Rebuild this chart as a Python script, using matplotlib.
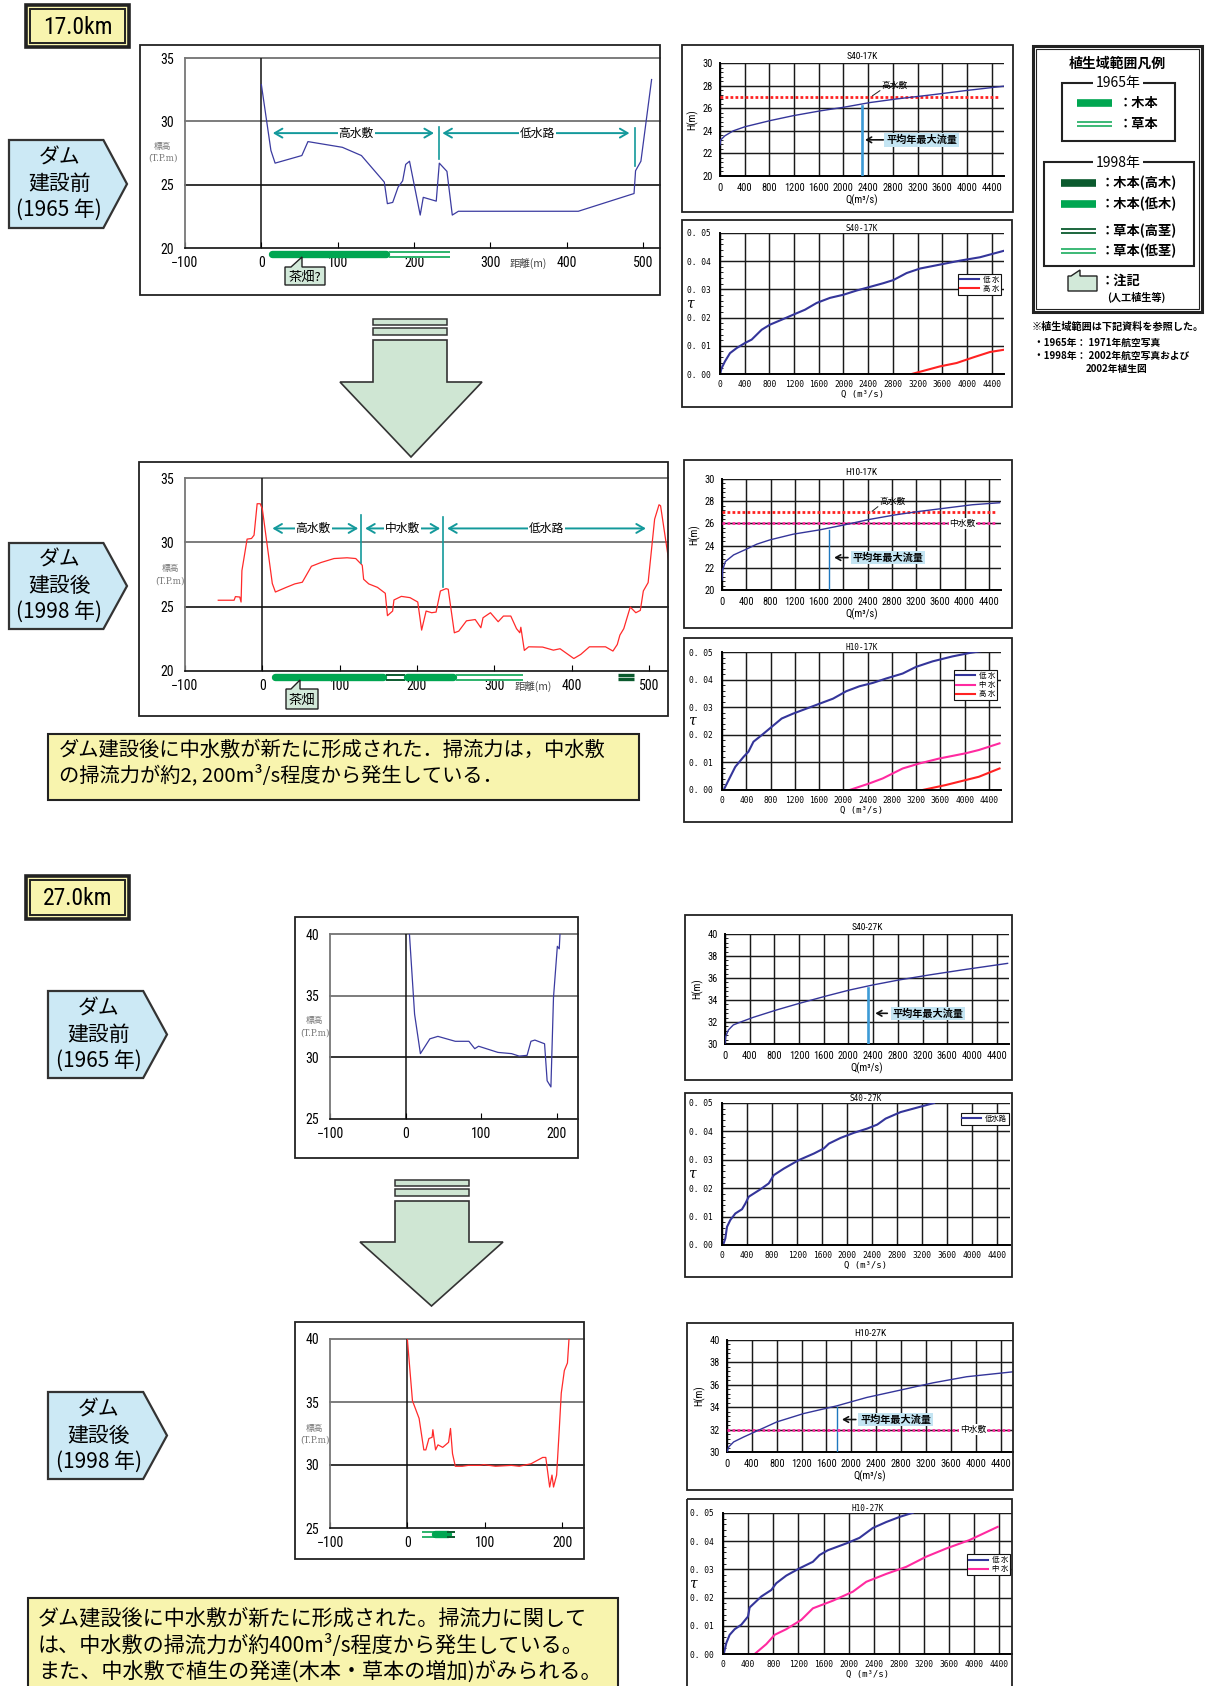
import numpy as np
import matplotlib
matplotlib.use('Agg')
import matplotlib.pyplot as plt
from matplotlib.patches import Rectangle, Polygon
from matplotlib.ticker import MultipleLocator
from matplotlib import font_manager as fm

JP = 'Noto Sans CJK JP'
MONO = 'DejaVu Sans Mono'
plt.rcParams['font.family'] = [JP, 'DejaVu Sans']


def _find_narrow():
    pref = ['Liberation Sans Narrow', 'Roboto Condensed', 'Noto Sans', 'Open Sans', 'DejaVu Sans',
            'Roboto', 'Lato', 'Inter']
    found = {}
    for f in fm.fontManager.ttflist:
        st = str(f.stretch)
        narrow = ('Narrow' in f.name or 'Condensed' in f.name or
                  st in ('condensed', 'semi-condensed', 'extra-condensed', '700', '600', '500'))
        if narrow and f.style == 'normal' and f.weight in (400, 'normal', 'regular', 'book'):
            found.setdefault(f.name, f.fname)
    for p in pref:
        if p in found:
            return fm.FontProperties(fname=found[p])
    if found:
        return fm.FontProperties(fname=list(found.values())[0])
    return fm.FontProperties(family='Roboto')


_NFP = _find_narrow()


def NF(size):
    p = _NFP.copy()
    p.set_size(size)
    return p


# ======================= DATA =======================
# 17.0 km cross-section, 1965 (distance m, elevation T.P.m)
xs17_65_x = [0, 12.5, 18, 53, 61, 106, 131, 161, 165, 172, 179, 185, 189, 194, 208, 212,
             229, 233, 243, 250, 258, 415, 488, 490, 497, 511]
xs17_65_z = [32.9, 27.7, 26.7, 27.3, 28.4, 27.95, 27.3, 25.2, 23.5, 23.6, 24.8, 25.3, 26.6,
             26.85, 22.6, 24.0, 23.7, 26.7, 26.05, 22.6, 22.9, 22.9, 24.3, 26.1, 26.85, 33.3]
# 17.0 km cross-section, 1998
xs17_98_x = [-57, -36.5, -34.8, -29.2, -27.5, -26.4, -19.7, -14, -10.7, -6.7, -2.8, 0, 12.9,
             16.9, 30.9, 42, 51.7, 63.5, 75.8, 92.7, 109.6, 120.8, 129.2, 131, 137.6, 148.9,
             159, 161.8, 168.5, 170.2, 179.8, 191, 201, 206, 211.8, 219, 224.7, 230.3, 237.6,
             240.4, 248.3, 254, 264, 275.3, 282.6, 285.4, 295, 305, 311.8, 321.3, 328.7, 333,
             334.3, 338.8, 344.4, 362.4, 376.4, 385, 402.8, 411.8, 423, 443.8, 453.4, 459,
             462.4, 467.4, 475.8, 483, 488.8, 492.7, 498.9, 507.3, 513, 515, 525]
xs17_98_z = [25.5, 25.5, 25.78, 25.75, 25.36, 27.8, 30.25, 30.3, 30.56, 33.0, 33.0, 32.6, 26.8,
             26.14, 26.5, 26.77, 26.9, 28.14, 28.43, 28.74, 28.8, 28.74, 28.22, 27.13, 26.77,
             26.5, 26.04, 24.3, 24.66, 25.52, 25.8, 25.7, 25.36, 23.18, 24.66, 24.53, 24.58,
             26.22, 26.4, 26.35, 22.97, 23.1, 23.9, 24.0, 23.36, 24.14, 24.53, 23.83, 24.27,
             24.27, 23.29, 22.97, 23.4, 21.6, 21.88, 21.86, 21.62, 21.73, 20.97, 21.29, 21.88,
             21.88, 21.55, 22.06, 22.79, 23.29, 24.97, 24.53, 24.71, 26.22, 26.87, 31.8, 32.92,
             32.84, 28.8]
# 27.0 km cross-section, 1965
xs27_65_x = [5, 11.8, 19.5, 32, 42.6, 65.6, 83.6, 91.3, 96.4, 122, 140, 150, 160.5, 165.6,
             170.8, 183.6, 187, 192, 195.4, 200.5, 203, 204]
xs27_65_z = [40, 33.5, 30.3, 31.5, 31.7, 31.3, 31.3, 30.7, 30.9, 30.4, 30.3, 30.1, 30.16, 31.3,
             31.4, 31.1, 28.1, 27.6, 34.85, 39.0, 38.8, 40]
# 27.0 km cross-section, 1998
xs27_98_x = [0, 6.6, 15.2, 21.3, 23.9, 27.9, 32, 33, 36.5, 39.6, 45.7, 53.3, 55.8, 58.4, 62,
             71, 78.7, 94, 99, 114, 134.5, 144.7, 160, 175, 179, 184, 187, 189, 193, 196.4,
             199, 203, 207, 209]
xs27_98_z = [40, 35.1, 33.7, 31.2, 31.2, 32.1, 32.2, 32.8, 31.2, 31.6, 31.4, 31.8, 32.9, 30.9,
             29.9, 29.9, 29.97, 29.97, 30.03, 29.9, 29.97, 29.9, 30.1, 30.6, 30.6, 28.25, 29.2,
             28.25, 29.2, 32.8, 35.7, 37.5, 38.1, 40]

# H-Q curves (Q m3/s, H m)
hq_s40_17_q = [0, 11, 80, 216, 405, 810, 1188, 1620, 2000, 2430, 2861, 3455, 3995, 4600]
hq_s40_17_h = [22.76, 23.2, 23.56, 24.0, 24.36, 24.9, 25.34, 25.76, 26.08, 26.5, 26.82, 27.2, 27.57, 27.95]
hq_h10_17_q = [0, 11, 55, 191, 410, 574, 793, 1175, 1612, 1995, 2432, 2870, 3252, 3689, 4127, 4575]
hq_h10_17_h = [20.9, 21.8, 22.56, 23.16, 23.7, 24.13, 24.52, 25.03, 25.42, 25.84, 26.36, 26.78, 27.08, 27.38, 27.68, 27.86]
hq_s40_27_q = [0, 11, 54, 134, 268, 456, 832, 1207, 1637, 2012, 2388, 2817, 3300, 3837, 4577]
hq_s40_27_h = [30.06, 30.67, 31.27, 31.73, 32.03, 32.42, 33.09, 33.7, 34.36, 34.9, 35.36, 35.82, 36.27, 36.73, 37.33]
hq_h10_27_q = [0, 27, 107, 268, 482, 803, 1231, 1766, 2248, 2783, 3318, 3854, 4600]
hq_h10_27_h = [30.0, 30.45, 30.9, 31.34, 31.88, 32.69, 33.43, 34.12, 34.87, 35.52, 36.18, 36.72, 37.16]

# mean annual maximum discharge (m3/s)
qmean_s40_17 = 2300
qmean_h10_17 = 1765
qmean_s40_27 = 2318
qmean_h10_27 = 1777
# floodplain levels (m)
lv_high_17 = 27.0
lv_mid_17 = 26.0
lv_mid_27 = 32.0

# tractive force tau vs Q
tau_s40_17_low_q = [0, 27, 81, 162, 270, 405, 513, 675, 810, 1026, 1215, 1377, 1566, 1782, 1998,
                    2213, 2430, 2645, 2807, 3023, 3239, 3563, 3887, 4211, 4600]
tau_s40_17_low_t = [0, 0.0021, 0.0045, 0.0074, 0.0092, 0.011, 0.0122, 0.0157, 0.0175, 0.0195,
                    0.0213, 0.0228, 0.0252, 0.027, 0.0281, 0.0296, 0.0309, 0.0322, 0.0333, 0.0358,
                    0.0374, 0.0388, 0.0402, 0.0414, 0.0437]
tau_s40_17_high_q = [3104, 3563, 3833, 4103, 4373, 4600]
tau_s40_17_high_t = [0, 0.0027, 0.0039, 0.0059, 0.0078, 0.0086]

tau_h10_17_low_q = [27, 109, 219, 355, 437, 519, 656, 820, 984, 1175, 1394, 1612, 1831, 2050,
                    2268, 2487, 2706, 2979, 3198, 3471, 3799, 4072, 4345]
tau_h10_17_low_t = [0, 0.0036, 0.0084, 0.012, 0.0139, 0.0175, 0.0199, 0.0229, 0.0259, 0.0277,
                    0.0295, 0.0313, 0.0331, 0.0358, 0.0376, 0.0388, 0.0404, 0.0422, 0.0446,
                    0.0466, 0.0484, 0.0496, 0.0506]
tau_h10_17_mid_q = [2104, 2432, 2651, 2815, 2979, 3252, 3580, 4017, 4236, 4575]
tau_h10_17_mid_t = [0, 0.0024, 0.0042, 0.006, 0.0078, 0.0096, 0.0114, 0.0133, 0.0145, 0.0169]
tau_h10_17_high_q = [3307, 3689, 4017, 4236, 4575]
tau_h10_17_high_t = [0, 0.0018, 0.0036, 0.0048, 0.0078]

tau_s40_27_low_q = [27, 53, 80, 133, 213, 320, 373, 427, 613, 747, 827, 987, 1227, 1467, 1627,
                    1707, 1893, 2107, 2320, 2480, 2613, 2853, 3120, 3387]
tau_s40_27_low_t = [0.0006, 0.0023, 0.0064, 0.0088, 0.0111, 0.0126, 0.0146, 0.017, 0.0196,
                    0.0217, 0.0246, 0.0269, 0.0299, 0.0322, 0.034, 0.0357, 0.0377, 0.0395,
                    0.041, 0.0424, 0.0445, 0.0468, 0.0484, 0.05]

tau_h10_27_low_q = [16, 53, 106, 186, 292, 398, 424, 610, 769, 848, 1007, 1219, 1431, 1537,
                    1670, 1961, 2173, 2386, 2598, 2810, 3022]
tau_h10_27_low_t = [0.0004, 0.0039, 0.0068, 0.0088, 0.0104, 0.0133, 0.0165, 0.0204, 0.0227,
                    0.0251, 0.0278, 0.0304, 0.0327, 0.0351, 0.0368, 0.0392, 0.0412, 0.0447,
                    0.0468, 0.0486, 0.0501]
tau_h10_27_mid_q = [504, 689, 822, 1007, 1246, 1431, 1749, 2067, 2280, 2598, 2916, 3234, 3552,
                    3923, 4373]
tau_h10_27_mid_t = [0, 0.0035, 0.0068, 0.0088, 0.0121, 0.0162, 0.0189, 0.0221, 0.0256, 0.0284,
                    0.0309, 0.0345, 0.0374, 0.0404, 0.0451]

# vegetation ranges below the cross-sections (from m, to m, kind)
veg17_65 = [(14, 163, 'solid'), (167, 247, 'dbl')]
veg17_98 = [(16, 156, 'solid'), (160, 185, 'dbl_dark'), (187, 246, 'solid'),
            (250, 337, 'dbl'), (460, 480, 'dbl_dark_thick')]
veg27_98 = [(19, 43, 'dbl'), (36, 52, 'solid'), (51, 62, 'dbl_dark')]

xticks_q = list(range(0, 4401, 400))
tau_ticks = [0, 0.01, 0.02, 0.03, 0.04, 0.05]
tau_labels = ['0. 00', '0. 01', '0. 02', '0. 03', '0. 04', '0. 05']

# ======================= STYLE =======================
TEAL = '#13999b'
BLUE_XS = '#3b3ba0'
RED_XS = '#ff2a2a'
CURVE = '#34359a'
RED = '#ff2222'
MAG = '#ff2aa0'
GREEN = '#00a651'
DKGREEN = '#0b5a2e'
LTGREEN = '#2db36b'
YEL = '#f8f4ae'
PENT = '#cce9f5'
ARROWC = '#cfe6d3'
CALL = '#d2e9d9'
LBLUE = '#c4e5f3'

W, H = 1218, 1686
fig = plt.figure(figsize=(W / 100, H / 100), dpi=100)
fig.patch.set_facecolor('white')


def add_ax(x0, y0, x1, y1, **kw):
    return fig.add_axes([x0 / W, 1 - y1 / H, (x1 - x0) / W, (y1 - y0) / H], **kw)


ov = add_ax(0, 0, W, H, zorder=10)
ov.set_xlim(0, W)
ov.set_ylim(H, 0)
ov.axis('off')
ov.patch.set_alpha(0)


def T(x, y, s, fs, ha='left', va='center', family=None, **kw):
    ov.text(x, y, s, fontsize=fs, ha=ha, va=va,
            fontfamily=family if family else [JP, 'DejaVu Sans'], **kw)


def frame(x0, y0, x1, y1, lw=1.3, fc='none', ec='#222'):
    ov.add_patch(Rectangle((x0, y0), x1 - x0, y1 - y0, fc=fc, ec=ec, lw=lw))


def set_tick_font(ax, fp):
    for lab in ax.get_xticklabels() + ax.get_yticklabels():
        lab.set_fontproperties(fp)


# ---------- decorative items ----------
def km_box(x0, y0, x1, y1, text):
    frame(x0, y0, x1, y1, lw=2.6, fc=YEL)
    frame(x0 + 4, y0 + 4, x1 - 4, y1 - 4, lw=1.4)
    ov.text((x0 + x1) / 2, (y0 + y1) / 2 + 1, text, ha='center', va='center',
            fontproperties=NF(17))


def pentagon(x0, y0, x1, y1, lines):
    xr = x0 + 0.8 * (x1 - x0)
    ym = (y0 + y1) / 2
    ov.add_patch(Polygon([(x0, y0), (xr, y0), (x1, ym), (xr, y1), (x0, y1)],
                         closed=True, fc=PENT, ec='#333', lw=1.6))
    xc = (x0 + xr) / 2 + 3
    for i, s in enumerate(lines):
        T(xc, ym + (i - 1) * 26, s, 15, ha='center', family=[JP])


def big_arrow(xb0, xb1, y_bar, y_body, y_head, xh0, xh1, tipy):
    xm = (xh0 + xh1) / 2
    ov.add_patch(Rectangle((xb0, y_bar), xb1 - xb0, 6, fc=ARROWC, ec='#333', lw=1.1))
    ov.add_patch(Rectangle((xb0, y_bar + 9), xb1 - xb0, 7, fc=ARROWC, ec='#333', lw=1.1))
    ov.add_patch(Polygon([(xb0, y_body), (xb1, y_body), (xb1, y_head), (xh1, y_head),
                          (xm, tipy), (xh0, y_head), (xb0, y_head)],
                         closed=True, fc=ARROWC, ec='#333', lw=1.2))


def callout(x0, y0, x1, y1, xa, xb, tipy, text, fs):
    ov.add_patch(Polygon([(x0, y0), (xa, y0), (xb, tipy), (xb, y0), (x1, y0), (x1, y1), (x0, y1)],
                         closed=True, fc=CALL, ec='#222', lw=1.0))
    if text:
        T((x0 + x1) / 2, (y0 + y1) / 2 + 1, text, fs, ha='center')


def ov_bar(x0, x1, y, kind):
    if kind == 'solid':
        ov.plot([x0, x1], [y, y], color=GREEN, lw=5.5, solid_capstyle='butt')
    elif kind == 'solid_dark':
        ov.plot([x0, x1], [y, y], color=DKGREEN, lw=5.5, solid_capstyle='butt')
    else:
        col = LTGREEN if kind == 'dbl' else DKGREEN
        for d in (-2.4, 2.4):
            ov.plot([x0, x1], [y + d, y + d], color=col, lw=1.3, solid_capstyle='butt')


# ---------- cross-section ----------
def xsection(px, xlim, ylim, xticks, x, z, color, dist_label=False):
    x0, y0, x1, y1 = px
    hpx = y1 - y0
    ax = add_ax(x0, y0, x1, y1)
    ax.set_xlim(*xlim)
    ax.set_ylim(*ylim)
    yt = list(range(int(ylim[0]), int(ylim[1]) + 1, 5))
    ax.set_yticks(yt, labels=[str(v) for v in yt])
    ax.set_xticks(xticks, labels=[('\u2212%d' % -v) if v < 0 else str(v) for v in xticks])
    for sp in ['top', 'right']:
        ax.spines[sp].set_visible(False)
    ax.spines['left'].set_color('#777')
    ax.spines['left'].set_linewidth(1.3)
    ax.spines['bottom'].set_color('#111')
    ax.spines['bottom'].set_linewidth(1.2)
    for i, yv in enumerate(yt[1:]):
        ax.axhline(yv, color='#111' if i == 0 else '#666', lw=1.2, clip_on=False, zorder=1)
    ax.axvline(0, color='#111', lw=1.1, zorder=1)
    ax.plot(x, z, color=color, lw=0.9, zorder=3)
    ax.tick_params(axis='x', direction='in', length=4, width=0.8, pad=6)
    ax.tick_params(axis='y', direction='in', length=0, pad=8)
    set_tick_font(ax, NF(10))
    if dist_label:
        ax.text(350, -15 / hpx, '距離(m)', transform=ax.get_xaxis_transform(), fontsize=7.5,
                ha='center', va='center', color='#444')
    return ax, hpx


def veg(ax, hpx, items):
    tr = ax.get_xaxis_transform()
    yc = -6.0 / hpx
    d = 2.5 / hpx
    for a, b, kind in items:
        if kind == 'solid':
            ax.plot([a, b], [yc, yc], transform=tr, color=GREEN, lw=5.3,
                    solid_capstyle='round', clip_on=False, zorder=4)
        elif kind == 'dbl_dark_thick':
            for s in (-1, 1):
                ax.plot([a, b], [yc + s * d * 0.9] * 2, transform=tr, color=DKGREEN, lw=2.4,
                        clip_on=False, solid_capstyle='butt', zorder=4)
        else:
            col = LTGREEN if kind == 'dbl' else DKGREEN
            for s in (-1, 1):
                ax.plot([a, b], [yc + s * d] * 2, transform=tr, color=col, lw=1.4,
                        clip_on=False, solid_capstyle='butt', zorder=4)


def span(ax, a, b, y, label=None, xl=None):
    ax.annotate('', xy=(a, y), xytext=(b, y),
                arrowprops=dict(arrowstyle='<->,head_length=0.55,head_width=0.32', color=TEAL,
                                lw=1.4, shrinkA=0, shrinkB=0), zorder=5)
    if label:
        ax.text(xl, y, label, fontsize=8.5, ha='center', va='center', zorder=6,
                bbox=dict(fc='white', ec='none', pad=0.6))


def vline(ax, x, ya, yb):
    ax.plot([x, x], [ya, yb], color=TEAL, lw=1.2, zorder=5)


# ---------- small charts ----------
def chart(px, ylim, ystep, ylabels, minor, title, kind, xlab):
    x0, y0, x1, y1 = px
    ax = add_ax(x0, y0, x1, y1)
    ax.set_xlim(0, 4600)
    ax.set_ylim(*ylim)
    yt = np.arange(ylim[0], ylim[1] + ystep / 2, ystep)
    if ylabels is None:
        ylabels = ['%d' % v for v in yt]
    ax.set_yticks(yt, labels=ylabels)
    ax.set_xticks(xticks_q, labels=[str(v) for v in xticks_q])
    ax.grid(True, color='#1a1a1a', lw=1.05)
    ax.set_axisbelow(True)
    ax.yaxis.set_minor_locator(MultipleLocator(minor))
    for sp in ['top', 'right']:
        ax.spines[sp].set_visible(False)
    ax.spines['left'].set_linewidth(1.4)
    ax.spines['bottom'].set_linewidth(1.4)
    if kind == 'hq':
        ax.tick_params(which='major', length=0, pad=5)
        set_tick_font(ax, NF(7.5))
        ax.set_title(title, pad=3, fontproperties=NF(6.8))
        ax.set_xlabel(xlab, labelpad=1, fontproperties=NF(7.5))
        ax.set_ylabel('H(m)', labelpad=3, fontproperties=NF(7.5))
    else:
        ax.tick_params(which='major', length=0, labelsize=5.7, pad=4, labelfontfamily=MONO)
        ax.tick_params(axis='y', pad=7)
        ax.set_title(title, fontsize=5.6, pad=1.5, fontfamily=MONO)
        ax.set_xlabel(xlab, fontsize=6.5, labelpad=1, fontfamily=MONO)
        ax.text(-30 / (x1 - x0), 0.5, 'τ', transform=ax.transAxes, fontsize=10, style='italic',
                fontfamily='DejaVu Serif', ha='center', va='center')
    ax.tick_params(axis='y', which='minor', direction='in', length=2.5, width=0.6)
    return ax


def mean_line(ax, qm, q, h, ybase, thick, lab_q, lab_h, arr_from, arr_to):
    top = np.interp(qm, q, h)
    ax.plot([qm, qm], [ybase, top - 0.15], color='#3d9bd6' if thick else '#1f78bf',
            lw=1.9 if thick else 1.0, zorder=3)
    ax.text(lab_q, lab_h, '平均年最大流量', fontsize=7.3, fontweight='bold', ha='left', va='center',
            zorder=6, bbox=dict(fc=LBLUE, ec='none', pad=1.2))
    ax.annotate('', xy=(arr_to, lab_h), xytext=(arr_from, lab_h),
                arrowprops=dict(arrowstyle='->,head_length=0.35,head_width=0.2', lw=1.2,
                                color='#111', shrinkA=0, shrinkB=0), zorder=6)


def level(ax, y, color, xmax=4540):
    ax.plot([0, xmax], [y, y], color=color, lw=2.0, ls=(0, (1, 0.8)), zorder=4)


def leader(ax, qa, ha_, qb, hb, text):
    ax.plot([qa, qb], [ha_, hb], color='#222', lw=0.7, zorder=6)
    ax.text(qb + 30, hb + 0.1, text, fontsize=6.3, ha='left', va='bottom', zorder=6)


def tau_leg(ax, anchor, labels):
    leg = ax.legend(labels, loc='upper right', bbox_to_anchor=anchor, fontsize=5.3,
                    frameon=True, fancybox=False, edgecolor='#111', framealpha=1,
                    borderpad=0.25, labelspacing=0.15, handlelength=2.6, handletextpad=0.5,
                    borderaxespad=0)
    leg.get_frame().set_linewidth(0.8)


# ======================= SECTION 17.0 km =======================
km_box(26, 5, 129, 47, '17.0km')
pentagon(9, 140, 127, 228, ['ダム', '建設前', '(1965 年)'])
pentagon(9, 543, 127, 629, ['ダム', '建設後', '(1998 年)'])
big_arrow(373, 447, 319, 340, 382, 340, 482, 457)

frame(140, 45, 660, 295)
axA, hA = xsection((185, 58, 660, 248), (-100, 522), (20, 35), list(range(-100, 501, 100)),
                   xs17_65_x, xs17_65_z, BLUE_XS, dist_label=True)
veg(axA, hA, veg17_65)
span(axA, 15, 226, 29.07, '高水敷', 124)
vline(axA, 232, 27.0, 29.57)
span(axA, 237, 482, 29.07, '低水路', 361)
vline(axA, 489, 26.5, 29.46)
callout(285, 267, 325, 285, 291, 302, 257, '茶畑?', 9.5)
T(163, 147, '標高', 6.3, ha='center', color='#777')
T(163, 158, '(T.P.m)', 6.3, ha='center', color='#777', family=['DejaVu Serif'])

frame(139, 462, 668, 716)
axB, hB = xsection((185, 478, 668, 671), (-100, 524.6), (20, 35), list(range(-100, 501, 100)),
                   xs17_98_x, xs17_98_z, RED_XS, dist_label=True)
veg(axB, hB, veg17_98)
span(axB, 13, 124, 31.08, '高水敷', 66)
vline(axB, 128, 28.4, 32.1)
span(axB, 133, 230, 31.08, '中水敷', 181)
vline(axB, 233, 26.5, 32.0)
span(axB, 239, 496, 31.08, '低水路', 368)
callout(286, 689, 318, 709, 291, 300, 680, '茶畑', 9.5)
T(170, 569, '標高', 6.3, ha='center', color='#777')
T(170, 581, '(T.P.m)', 6.3, ha='center', color='#777', family=['DejaVu Serif'])

# text box 1
frame(48, 734, 639, 800, lw=1.5, fc=YEL)
T(59, 750, 'ダム建設後に中水敷が新たに形成された．掃流力は，中水敷', 14.6, family=[JP])
T(59, 775, 'の掃流力が約2, 200m³/s程度から発生している．', 14.6, family=[JP])

# H-Q S40-17K
frame(682, 45, 1013, 212)
ax = chart((720, 63, 1004, 176), (20, 30), 2, None, 0.4, 'S40-17K', 'hq', 'Q(m³/s)')
ax.plot(hq_s40_17_q, hq_s40_17_h, color=CURVE, lw=1.0, zorder=5)
level(ax, lv_high_17, RED, 4535)
leader(ax, 2470, 27.1, 2590, 27.55, '高水敷')
mean_line(ax, qmean_s40_17, hq_s40_17_q, hq_s40_17_h, 20, True, 2690, 23.2, 2645, 2350)

# tau S40-17K
frame(682, 220, 1012, 407)
ax = chart((720, 233, 1004, 374), (0, 0.05), 0.01, tau_labels, 0.002, 'S40-17K', 'tau',
           'Q (m³/s)')
ax.plot(tau_s40_17_low_q, tau_s40_17_low_t, color=CURVE, lw=1.5, label='低 水')
ax.plot(tau_s40_17_high_q, tau_s40_17_high_t, color=RED, lw=1.5, label='高 水')
tau_leg(ax, (0.99, 0.71), ['低 水', '高 水'])

# H-Q H10-17K
frame(684, 460, 1012, 628)
ax = chart((722, 479, 1001, 590), (20, 30), 2, None, 0.4, 'H10-17K', 'hq', 'Q(m³/s)')
ax.plot(hq_h10_17_q, hq_h10_17_h, color=CURVE, lw=1.0, zorder=5)
level(ax, lv_high_17, RED, 4510)
level(ax, lv_mid_17, MAG, 4510)
leader(ax, 2476, 27.1, 2569, 27.5, '高水敷')
ax.text(3963, lv_mid_17, '中水敷', fontsize=6.3, ha='center', va='center', zorder=7,
        bbox=dict(fc='white', ec='none', pad=0.5))
mean_line(ax, qmean_h10_17, hq_h10_17_q, hq_h10_17_h, 20, False, 2148, 22.92, 2077, 1850)

# tau H10-17K
frame(684, 638, 1012, 822)
ax = chart((722, 652, 1001, 790), (0, 0.05), 0.01, tau_labels, 0.002, 'H10-17K', 'tau',
           'Q (m³/s)')
ax.plot(tau_h10_17_low_q, tau_h10_17_low_t, color=CURVE, lw=1.5)
ax.plot(tau_h10_17_mid_q, tau_h10_17_mid_t, color=MAG, lw=1.5)
ax.plot(tau_h10_17_high_q, tau_h10_17_high_t, color=RED, lw=1.5)
tau_leg(ax, (0.986, 0.868), ['低 水', '中 水', '高 水'])

# vegetation legend
frame(1033, 46, 1202, 312, lw=2.2)
frame(1036, 49, 1199, 309, lw=0.8)
T(1117, 64, '植生域範囲凡例', 10, ha='center', fontweight='bold')
frame(1062, 83, 1175, 141, lw=1.5)
T(1118, 83, '1965年', 10, ha='center', bbox=dict(fc='white', ec='none', pad=1.5))
ov_bar(1077, 1112, 103, 'solid')
T(1119, 103, '：木本', 9.5, fontweight='bold')
ov_bar(1077, 1112, 124, 'dbl')
T(1119, 124, '：草本', 9.5, fontweight='bold')
frame(1044, 162, 1194, 266, lw=1.5)
T(1118, 163, '1998年', 10, ha='center', bbox=dict(fc='white', ec='none', pad=1.5))
ov_bar(1061, 1096, 183, 'solid_dark')
T(1101, 183, '：木本(高木)', 9.5, fontweight='bold')
ov_bar(1061, 1096, 204, 'solid')
T(1101, 204, '：木本(低木)', 9.5, fontweight='bold')
ov_bar(1061, 1096, 231, 'dbl_dark')
T(1101, 231, '：草本(高茎)', 9.5, fontweight='bold')
ov_bar(1061, 1096, 251, 'dbl')
T(1101, 251, '：草本(低茎)', 9.5, fontweight='bold')
callout(1068, 276, 1097, 291, 1071, 1080, 270, None, 8)
T(1101, 281, '：注記', 9.5, fontweight='bold')
T(1107, 297, '(人工植生等)', 7.3, fontweight='bold')
T(1032, 327, '※植生域範囲は下記資料を参照した。', 7.3, fontweight='bold')
T(1034, 343, '・1965年： 1971年航空写真', 7.0, fontweight='bold')
T(1034, 356, '・1998年： 2002年航空写真および', 7.0, fontweight='bold')
T(1086, 369, '2002年植生図', 7.0, fontweight='bold')

# ======================= SECTION 27.0 km =======================
km_box(26, 876, 129, 919, '27.0km')
pentagon(48, 991, 167, 1078, ['ダム', '建設前', '(1965 年)'])
pentagon(48, 1392, 167, 1479, ['ダム', '建設後', '(1998 年)'])
big_arrow(395, 469, 1180, 1201, 1242, 360, 503, 1306)

frame(295, 917, 578, 1158)
axC, hC = xsection((330, 934, 578, 1119), (-100, 227.8), (25, 40), [-100, 0, 100, 200],
                   xs27_65_x, xs27_65_z, BLUE_XS)
T(315, 1021, '標高', 6.3, ha='center', color='#777')
T(315, 1033, '(T.P.m)', 6.3, ha='center', color='#777', family=['DejaVu Serif'])

frame(295, 1322, 584, 1559)
axD, hD = xsection((330, 1339, 584, 1528), (-100, 228.4), (25, 40), [-100, 0, 100, 200],
                   xs27_98_x, xs27_98_z, RED_XS)
veg(axD, hD, veg27_98)
T(315, 1428, '標高', 6.3, ha='center', color='#777')
T(315, 1440, '(T.P.m)', 6.3, ha='center', color='#777', family=['DejaVu Serif'])

# text box 2
frame(28, 1598, 618, 1690, lw=1.5, fc=YEL)
T(38, 1618, 'ダム建設後に中水敷が新たに形成された。掃流力に関して', 15.2, family=[JP])
T(38, 1645, 'は、中水敷の掃流力が約400m³/s程度から発生している。', 15.2, family=[JP])
T(38, 1672, 'また、中水敷で植生の発達(木本・草本の増加)がみられる。', 15.2, family=[JP])

# H-Q S40-27K
frame(685, 915, 1012, 1080)
ax = chart((725, 934, 1009, 1044), (30, 40), 2, None, 0.4, 'S40-27K', 'hq', 'Q(m³/s)')
ax.plot(hq_s40_27_q, hq_s40_27_h, color=CURVE, lw=1.0, zorder=5)
mean_line(ax, qmean_s40_27, hq_s40_27_q, hq_s40_27_h, 30, True, 2710, 32.79, 2629, 2435)

# tau S40-27K
frame(685, 1093, 1012, 1277)
ax = chart((722, 1103, 1010, 1245), (0, 0.05), 0.01, tau_labels, 0.002, 'S40-27K', 'tau',
           'Q (m³/s)')
ax.plot(tau_s40_27_low_q, tau_s40_27_low_t, color=CURVE, lw=1.5)
tau_leg(ax, (0.997, 0.93), ['低水路'])

# H-Q H10-27K
frame(687, 1323, 1013, 1490)
ax = chart((727, 1340, 1013, 1452), (30, 40), 2, None, 0.4, 'H10-27K', 'hq', 'Q(m³/s)')
ax.plot(hq_h10_27_q, hq_h10_27_h, color=CURVE, lw=1.0, zorder=5)
level(ax, lv_mid_27, MAG, 4600)
ax.text(3961, lv_mid_27, '中水敷', fontsize=6.3, ha='center', va='center', zorder=7,
        bbox=dict(fc='white', ec='none', pad=0.5))
mean_line(ax, qmean_h10_27, hq_h10_27_q, hq_h10_27_h, 30, False, 2141, 32.9, 2072, 1850)

# tau H10-27K
frame(687, 1499, 1012, 1690)
ax = chart((723, 1513, 1012, 1654), (0, 0.05), 0.01, tau_labels, 0.002, 'H10-27K', 'tau',
           'Q (m³/s)')
ax.plot(tau_h10_27_low_q, tau_h10_27_low_t, color=CURVE, lw=1.5)
ax.plot(tau_h10_27_mid_q, tau_h10_27_mid_t, color=MAG, lw=1.5)
tau_leg(ax, (0.993, 0.706), ['低 水', '中 水'])

fig.savefig('out.png', dpi=100, facecolor='white')
